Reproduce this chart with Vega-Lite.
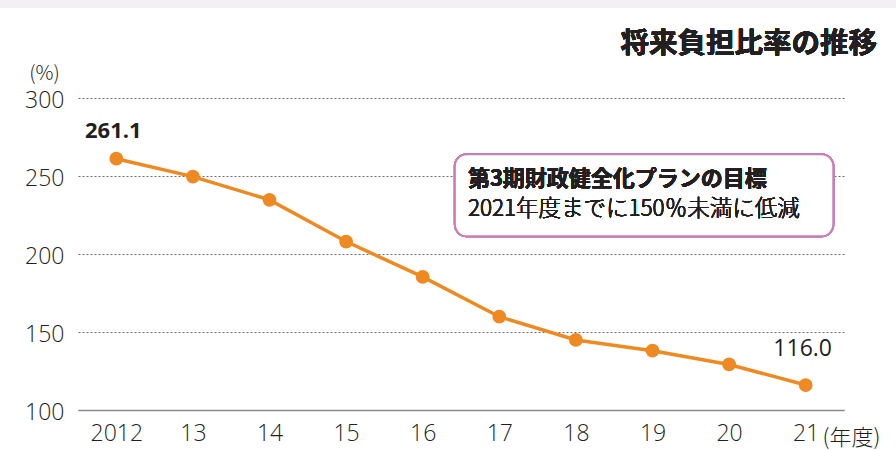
{
  "$schema": "https://vega.github.io/schema/vega-lite/v6.json",
  "width": 766,
  "height": 312,
  "autosize": {"type": "none"},
  "padding": {"left": 78, "top": 98, "right": 52, "bottom": 40},
  "background": "white",
  "config": {
    "view": {"stroke": null},
    "font": "Noto Sans CJK JP"
  },
  "data": {
    "values": [
      {"year": 2012, "value": 261.1},
      {"year": 2013, "value": 249.6},
      {"year": 2014, "value": 234.7},
      {"year": 2015, "value": 208.0},
      {"year": 2016, "value": 185.3},
      {"year": 2017, "value": 159.8},
      {"year": 2018, "value": 144.9},
      {"year": 2019, "value": 138.0},
      {"year": 2020, "value": 129.2},
      {"year": 2021, "value": 116.0}
    ]
  },
  "encoding": {
    "x": {
      "field": "year",
      "type": "quantitative",
      "scale": {"domain": [2011.5, 2021.5], "nice": false, "zero": false},
      "axis": {
        "values": [2012, 2013, 2014, 2015, 2016, 2017, 2018, 2019, 2020, 2021],
        "labelExpr": "datum.value == 2012 ? '2012' : substring(toString(datum.value), 2)",
        "grid": false,
        "ticks": false,
        "domain": true,
        "domainColor": "#8a8a8a",
        "domainWidth": 1.5,
        "labelFont": "Open Sans",
        "labelFontWeight": 300,
        "labelFontSize": 23,
        "labelColor": "#231f20",
        "labelPadding": 12,
        "labelFlush": false,
        "title": "(年度)",
        "titleFont": "Noto Sans CJK JP",
        "titleFontWeight": 300,
        "titleFontSize": 22,
        "titleColor": "#231f20",
        "titleAnchor": "start",
        "titleAlign": "left",
        "titleBaseline": "middle",
        "titleX": 744,
        "titleY": 27
      }
    },
    "y": {
      "field": "value",
      "type": "quantitative",
      "scale": {"domain": [100, 300], "nice": false, "zero": false},
      "axis": {
        "values": [100, 150, 200, 250, 300],
        "grid": true,
        "gridDash": [2, 2],
        "gridColor": "#6e6e6e",
        "gridWidth": 1.2,
        "ticks": false,
        "domain": false,
        "labelFont": "Open Sans",
        "labelFontWeight": 300,
        "labelFontSize": 23,
        "labelColor": "#231f20",
        "labelPadding": 14,
        "labelBaseline": "middle",
        "labelOffset": 2,
        "title": "(%)",
        "titleAngle": 0,
        "titleFont": "Noto Sans CJK JP",
        "titleFontWeight": 300,
        "titleFontSize": 20,
        "titleColor": "#231f20",
        "titleAlign": "center",
        "titleBaseline": "middle",
        "titleX": -34,
        "titleY": -25
      }
    }
  },
  "layer": [
    {
      "mark": {"type": "rect", "color": "#f4eef5", "clip": false},
      "encoding": {
        "x": {"datum": 2010.45},
        "x2": {"datum": 2022.2},
        "y": {"datum": 362.8},
        "y2": {"datum": 358.0}
      }
    },
    {
      "mark": {"type": "text", "align": "right", "baseline": "middle", "fontSize": 28.5, "fontWeight": "bold", "font": "Noto Sans CJK JP", "color": "#231f20"},
      "encoding": {
        "x": {"datum": 2021.93},
        "y": {"datum": 334.5},
        "text": {"value": "将来負担比率の推移"}
      }
    },
    {
      "mark": {"type": "rect", "fill": "white", "stroke": "#c97fb6", "strokeWidth": 2, "cornerRadius": 12},
      "encoding": {
        "x": {"datum": 2016.42},
        "x2": {"datum": 2021.36},
        "y": {"datum": 264.0},
        "y2": {"datum": 211.3}
      }
    },
    {
      "mark": {"type": "text", "align": "left", "baseline": "middle", "fontSize": 22, "fontWeight": "bold", "font": "Noto Sans CJK JP", "color": "#231f20"},
      "encoding": {
        "x": {"datum": 2016.59},
        "y": {"datum": 248.3},
        "text": {"value": "第3期財政健全化プランの目標"}
      }
    },
    {
      "mark": {"type": "text", "align": "left", "baseline": "middle", "fontSize": 22.5, "fontWeight": 300, "font": "Noto Sans CJK JP", "color": "#231f20"},
      "encoding": {
        "x": {"datum": 2016.59},
        "y": {"datum": 229.0},
        "text": {"value": "2021年度までに150％未満に低減"}
      }
    },
    {
      "mark": {"type": "line", "color": "#ef8a22", "strokeWidth": 3.5}
    },
    {
      "mark": {"type": "point", "filled": true, "opacity": 1, "color": "#ef8a22", "size": 190}
    },
    {
      "transform": [{"filter": "datum.year == 2012"}],
      "mark": {"type": "text", "align": "center", "baseline": "middle", "dx": -3, "dy": -28, "fontSize": 22, "fontWeight": "bold", "font": "Open Sans", "color": "#231f20"},
      "encoding": {"text": {"field": "value", "type": "quantitative", "format": ".1f"}}
    },
    {
      "transform": [{"filter": "datum.year == 2021"}],
      "mark": {"type": "text", "align": "center", "baseline": "middle", "dx": -3, "dy": -36, "fontSize": 23, "fontWeight": 500, "font": "Open Sans", "color": "#231f20"},
      "encoding": {"text": {"field": "value", "type": "quantitative", "format": ".1f"}}
    }
  ]
}
